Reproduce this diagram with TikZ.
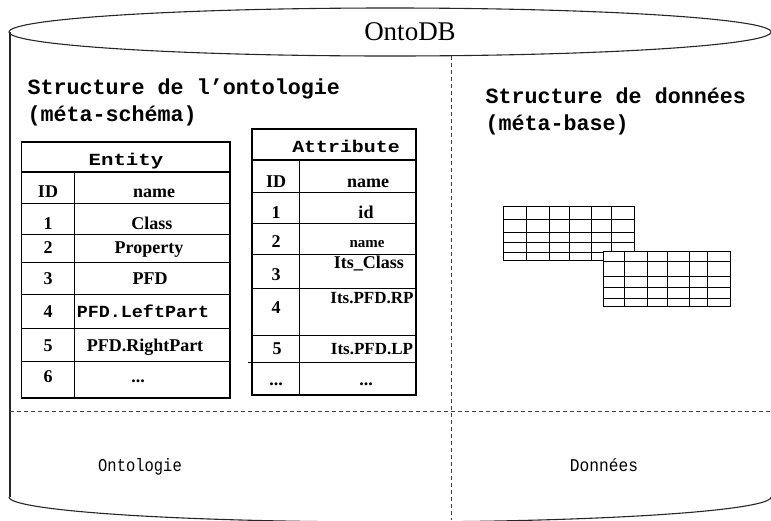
\documentclass[tikz,border=0pt]{standalone}
\usepackage{fontspec}
\usepackage{graphicx}
\setmainfont{Liberation Serif}
\newfontfamily\courfont{Liberation Mono}
\begin{document}
\begin{tikzpicture}[x=1pt,y=-1pt,line width=1pt,
  cyl/.style={draw=black!85,line width=1.1pt},
  sep/.style={draw=black!75,line width=1pt,dash pattern=on 4pt off 3pt},
  cell/.style={inner sep=0pt,anchor=base,font=\fontsize{18}{18}\selectfont\bfseries},
  small/.style={inner sep=0pt,anchor=base,font=\fontsize{15}{15}\selectfont\bfseries},
  mono/.style={inner sep=0pt,anchor=base,font=\courfont\bfseries\fontsize{17}{17}\selectfont},
  title/.style={inner sep=0pt,anchor=base west,font=\courfont\bfseries\fontsize{21.7}{21.7}\selectfont},
  label/.style={inner sep=0pt,anchor=base,font=\courfont\fontsize{18}{18}\selectfont},
  tab/.style={line width=1.3pt},
  grid/.style={line width=1pt}]
\useasboundingbox (0,0) rectangle (771,520);
\begin{scope}
\clip (0,0) rectangle (771,520);
% cylinder
\draw[cyl] (390,32) ellipse [x radius=381, y radius=24];
\draw[cyl] (10,32) -- (10,497);
\draw[cyl] plot[domain=180:0,samples=120,smooth] ({390+381*cos(\x)},{497+25*sin(\x)});
% separators
\draw[sep] (451,56) -- (451,520);
\draw[sep] (10,411) -- (771,411);
\end{scope}
\node[inner sep=0pt,anchor=base,font=\fontsize{27}{27}\selectfont] (db) at (410,40) {OntoDB};
% section titles
\node[title] (t1) at (27,94) {Structure de l’ontologie};
\node[title] (t2) at (27,121) {(méta-schéma)};
\node[title] (t3) at (485,103) {Structure de données};
\node[title] (t4) at (485,130) {(méta-base)};
\node[label] (onto) at (140,471) {\scalebox{0.86}[1]{Ontologie}};
\node[label] (don) at (604,471) {\scalebox{0.9}[1]{Données}};
% Entity table
\draw[tab] (21.5,142) rectangle (230,398);
\draw[line width=2.2pt] (21.5,172) -- (230,172);
\foreach \y in {203,234,262,294,328,361} \draw (21.5,\y) -- (230,\y);
\draw (74,172) -- (74,398);
\node[mono] (eh) at (126,165) {\scalebox{1.22}[1]{Entity}};
\node[cell] (eid) at (48,197) {ID};
\node[cell] (ename) at (154,197) {name};
\node[cell] (e1) at (48,229) {1};
\node[cell] (e1n) at (152,229) {Class};
\node[cell] (e2) at (48,253) {2};
\node[cell] (e2n) at (149,253) {Property};
\node[cell] (e3) at (48,284) {3};
\node[cell] (e3n) at (150,284) {PFD};
\node[cell] (e4) at (48,317) {4};
\node[mono] (e4n) at (143,317) {\scalebox{1.08}[1]{PFD.LeftPart}};
\node[cell] (e5) at (48,351) {5};
\node[cell] (e5n) at (145,351) {PFD.RightPart};
\node[cell] (e6) at (48,382) {6};
\node[cell] (e6n) at (138,382) {...};
% Attribute table
\draw[tab] (252,129) rectangle (416,395);
\draw[line width=1.8pt] (252,160) -- (416,160);
\foreach \y in {192,223,254,288,335} \draw (252,\y) -- (416,\y);
\draw (248,362) -- (416,362);
\draw (299,160) -- (299,395);
\node[mono] (ah) at (346,152) {\scalebox{1.17}[1]{Attribute}};
\node[cell] (aid) at (276,187) {ID};
\node[cell] (aname) at (368,187) {name};
\node[cell] (a1) at (276,218) {1};
\node[cell] (a1n) at (366,218) {id};
\node[cell] (a2) at (276,247) {2};
\node[small] (a2n) at (367,247) {name};
\node[cell] (a3n) at (369,268) {Its\_Class};
\node[cell] (a3) at (276,280) {3};
\node[cell,font=\fontsize{17}{17}\selectfont\bfseries] (a4n) at (372,303) {Its.PFD.RP};
\node[cell] (a4) at (276,313) {4};
\node[cell] (a5) at (277,354) {5};
\node[cell,font=\fontsize{17}{17}\selectfont\bfseries] (a5n) at (372,354) {Its.PFD.LP};
\node[cell] (a6) at (276,385) {...};
\node[cell] (a6n) at (366,385) {...};
% data grids
\draw[grid] (503,206) rectangle (634,260);
\foreach \y in {219,232,242,252} \draw[grid] (503,\y) -- (634,\y);
\foreach \x in {526,549,569,591,611} \draw[grid] (\x,206) -- (\x,260);
\draw[grid,fill=white] (603,251) rectangle (730,306);
\foreach \y in {261,276,287,298} \draw[grid] (603,\y) -- (730,\y);
\foreach \x in {624,647,667,689,707} \draw[grid] (\x,251) -- (\x,306);
\end{tikzpicture}
\end{document}
